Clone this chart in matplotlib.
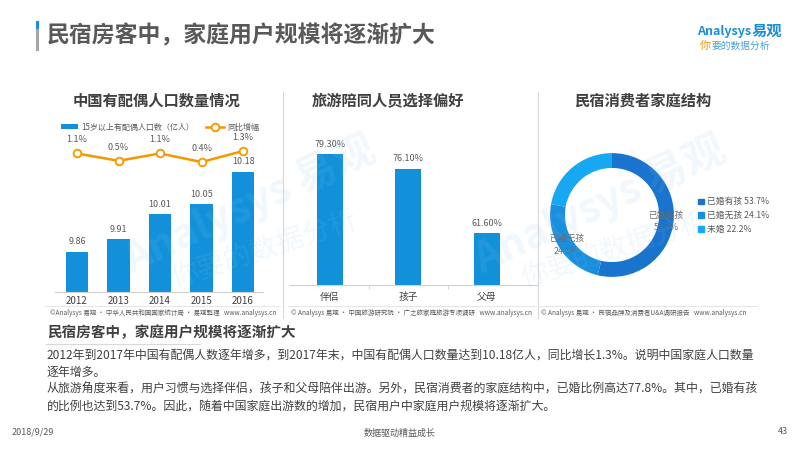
import matplotlib
matplotlib.use("Agg")
import matplotlib.pyplot as plt
from matplotlib.patches import Patch
from matplotlib.lines import Line2D
import numpy as np

plt.rcParams['font.family'] = ['Noto Sans CJK SC', 'DejaVu Sans']

# ==============================
# Data
# ==============================
years = ["2012", "2013", "2014", "2015", "2016"]
married_pop = [9.86, 9.91, 10.01, 10.05, 10.18]
growth = [1.1, 0.5, 1.1, 0.4, 1.3]

companions = ["伴侣", "孩子", "父母"]
companion_share = [79.30, 76.10, 61.60]

family_types = ["已婚有孩", "已婚无孩", "未婚"]
family_share = [53.7, 24.1, 22.2]

BLUE = "#1291DA"
ORANGE = "#F39800"
DARK = "#404040"
GRAY = "#595959"
DONUT_COLORS = ["#1874CD", "#1A8FDF", "#16A8F2"]

W, H = 800, 450
fig = plt.figure(figsize=(8, 4.5), dpi=100)
fig.patch.set_facecolor("white")


def fx(x):
    return x / W


def fy(y):
    return 1 - y / H


def px_axes(x0, y_top, x1, y_bot, **kw):
    return fig.add_axes([fx(x0), fy(y_bot), (x1 - x0) / W, (y_bot - y_top) / H], **kw)


# ==============================
# Watermarks (faint)
# ==============================
for (wx, wy) in [(250, 205), (600, 205)]:
    fig.text(fx(wx), fy(wy), "Analysys 易观", fontsize=30, color="#8cc8ef", alpha=0.12,
             rotation=25, ha="center", va="center", fontweight="bold")
    fig.text(fx(wx + 15), fy(wy + 45), "你要的数据分析", fontsize=20, color="#8cc8ef", alpha=0.12,
             rotation=18, ha="center", va="center")

# ==============================
# Header
# ==============================
fig.add_artist(Line2D([fx(37), fx(37)], [fy(22), fy(30)], color="#1a8fd8", lw=2.2))
fig.add_artist(Line2D([fx(37), fx(37)], [fy(30), fy(49)], color="#a6a6a6", lw=2.2))
fig.text(fx(47), fy(36), "民宿房客中，家庭用户规模将逐渐扩大", fontsize=16.5, fontweight="bold",
         color=GRAY, va="center", ha="left")
fig.text(fx(697), fy(31), "Analysys", fontsize=9, color="#1a8fd8", style="italic",
         va="center", ha="left", fontweight="bold")
fig.text(fx(752), fy(31), "易观", fontsize=11, color="#1a8fd8", va="center", ha="left",
         fontweight="bold")
fig.text(fx(700), fy(46), "你", fontsize=8, color=ORANGE, va="center", ha="left", style="italic")
fig.text(fx(711), fy(46), "要的数据分析", fontsize=7, color="#4a9fd8", va="center", ha="left",
         style="italic")

# panel titles
fig.text(fx(157), fy(101), "中国有配偶人口数量情况", fontsize=11, fontweight="bold", color=DARK,
         ha="center", va="center")
fig.text(fx(388), fy(101), "旅游陪同人员选择偏好", fontsize=11, fontweight="bold", color=DARK,
         ha="center", va="center")
fig.text(fx(643), fy(101), "民宿消费者家庭结构", fontsize=11, fontweight="bold", color=DARK,
         ha="center", va="center")

# dividers
for xd in [283, 538]:
    fig.add_artist(Line2D([fx(xd), fx(xd)], [fy(92), fy(318)], color="#d9d9d9", lw=0.8))
for (a, b) in [(45, 280), (288, 536), (540, 757)]:
    fig.add_artist(Line2D([fx(a), fx(b)], [fy(306), fy(306)], color="#e0e0e0", lw=0.6))

# ==============================
# Chart 1: bars + growth line
# ==============================
ax1 = px_axes(55, 125, 263, 292)
x1 = np.arange(len(years))
ax1.bar(x1, married_pop, width=0.55, color=BLUE, zorder=2, label="15岁以上有配偶人口数（亿人）")
ax1.set_xlim(-0.53, 4.48)
ax1.set_ylim(9.7, 9.7 + 167 / 250)
for xi, v in zip(x1, married_pop):
    ax1.annotate(f"{v:.2f}", (xi, v), xytext=(0, 4), textcoords="offset points",
                 ha="center", va="bottom", fontsize=6.5, color=GRAY)
ax1.set_xticks(x1)
ax1.set_xticklabels(years, fontsize=7, color=DARK)
ax1.tick_params(axis="x", length=0, pad=3)
ax1.set_yticks([])
for s in ["top", "right", "left"]:
    ax1.spines[s].set_visible(False)
ax1.spines["bottom"].set_color("#d0d0d0")
ax1.patch.set_alpha(0)

ax1b = ax1.twinx()
ax1b.plot(x1, growth, color=ORANGE, lw=1.8, marker="o", markersize=5.5,
          markerfacecolor="white", markeredgecolor=ORANGE, markeredgewidth=1.3,
          label="同比增幅", zorder=3)
ax1b.set_ylim(-10.24, 3.43)
for xi, g in zip(x1, growth):
    ax1b.annotate(f"{g}%", (xi, g), xytext=(0, 6.5), textcoords="offset points",
                  ha="center", va="bottom", fontsize=6.5, color=GRAY)
ax1b.set_yticks([])
for s in ["top", "right", "left", "bottom"]:
    ax1b.spines[s].set_visible(False)

h1, l1 = ax1.get_legend_handles_labels()
h2, l2 = ax1b.get_legend_handles_labels()
fig.legend(h1 + h2, l1 + l2, ncol=2, loc="center", bbox_to_anchor=(fx(160), fy(127)),
           frameon=False, fontsize=5.8, handlelength=2.2, handleheight=0.6,
           columnspacing=1.5, handletextpad=0.4, labelcolor=GRAY)

SRC_FS = 4.7
fig.text(fx(50), fy(313), "©Analysys 易观 · 中华人民共和国国家统计局 · 易观整理   www.analysys.cn",
         fontsize=SRC_FS, color=GRAY, ha="left", va="center")

# ==============================
# Chart 2: companion preference
# ==============================
ax2 = px_axes(290, 140, 537, 285)
x2 = np.arange(len(companions))
ax2.bar(x2, companion_share, width=0.33, color=BLUE, zorder=2)
ax2.set_xlim(-0.51, 2.64)
ax2.set_ylim(50, 50 + 145 / 4.46)
for xi, v in zip(x2, companion_share):
    ax2.annotate(f"{v:.2f}%", (xi, v), xytext=(0, 4), textcoords="offset points",
                 ha="center", va="bottom", fontsize=6.5, color=GRAY)
ax2.set_xticks(x2)
ax2.set_xticklabels(companions, fontsize=7, color=DARK)
ax2.set_xticks([0.5, 1.5], minor=True)
ax2.tick_params(axis="x", which="major", length=0, pad=5)
ax2.tick_params(axis="x", which="minor", length=3, color="#d0d0d0", width=0.6)
ax2.set_yticks([])
for s in ["top", "right", "left"]:
    ax2.spines[s].set_visible(False)
ax2.spines["bottom"].set_color("#d0d0d0")
ax2.patch.set_alpha(0)

fig.text(fx(291), fy(313), "© Analysys 易观 · 中国旅游研究院 · 广之旅家庭旅游专项调研   www.analysys.cn",
         fontsize=SRC_FS, color=GRAY, ha="left", va="center")

# ==============================
# Chart 3: family structure donut
# ==============================
ax3 = px_axes(547, 150, 677, 280)
wedges, _ = ax3.pie(family_share, colors=DONUT_COLORS, startangle=90, counterclock=False,
                    radius=1, wedgeprops=dict(width=0.24, edgecolor="none"))
ax3.set_xlim(-1.05, 1.05)
ax3.set_ylim(-1.05, 1.05)
ax3.set_aspect("equal")
for w, name, v in list(zip(wedges, family_types, family_share))[:2]:
    ang = np.deg2rad((w.theta1 + w.theta2) / 2)
    ax3.text(0.88 * np.cos(ang), 0.88 * np.sin(ang), f"{name}\n{v}%", fontsize=6.3,
             color="#6b6b6b", ha="center", va="center", linespacing=1.5)

fig.legend([Patch(color=c) for c in DONUT_COLORS],
           [f"{n} {v}%" for n, v in zip(family_types, family_share)],
           loc="upper left", bbox_to_anchor=(fx(694), fy(193)), frameon=False,
           fontsize=6.3, handlelength=0.6, handleheight=0.6, handletextpad=0.4,
           labelspacing=0.55, labelcolor=GRAY, borderpad=0)

fig.text(fx(541), fy(313), "© Analysys 易观 · 民宿品牌及消费者U&A调研报告   www.analysys.cn",
         fontsize=SRC_FS, color=GRAY, ha="left", va="center")

# ==============================
# Summary text
# ==============================
fig.text(fx(47), fy(332), "民宿房客中，家庭用户规模将逐渐扩大", fontsize=10.5, fontweight="bold",
         color=DARK, ha="left", va="center")
fig.add_artist(Line2D([fx(46), fx(200)], [fy(344), fy(344)], color="#d9d9d9", lw=0.8))

para = [
    "2012年到2017年中国有配偶人数逐年增多，到2017年末，中国有配偶人口数量达到10.18亿人，同比增长1.3%。说明中国家庭人口数量",
    "逐年增多。",
    "从旅游角度来看，用户习惯与选择伴侣，孩子和父母陪伴出游。另外，民宿消费者的家庭结构中，已婚比例高达77.8%。其中，已婚有孩",
    "的比例也达到53.7%。因此，随着中国家庭出游数的增加，民宿用户中家庭用户规模将逐渐扩大。",
]
for line, yy in zip(para, [355, 372, 389, 406]):
    fig.text(fx(47), fy(yy), line, fontsize=8.6, color=DARK, ha="left", va="center")

# footer
fig.text(fx(12), fy(432), "2018/9/29", fontsize=6.5, color=GRAY, ha="left", va="center")
fig.text(fx(400), fy(433), "数据驱动精益成长", fontsize=6.5, color=GRAY, ha="center", va="center")
fig.text(fx(788), fy(432), "43", fontsize=6.5, color=GRAY, ha="right", va="center")

fig.savefig("out.png", dpi=100, facecolor="white")
